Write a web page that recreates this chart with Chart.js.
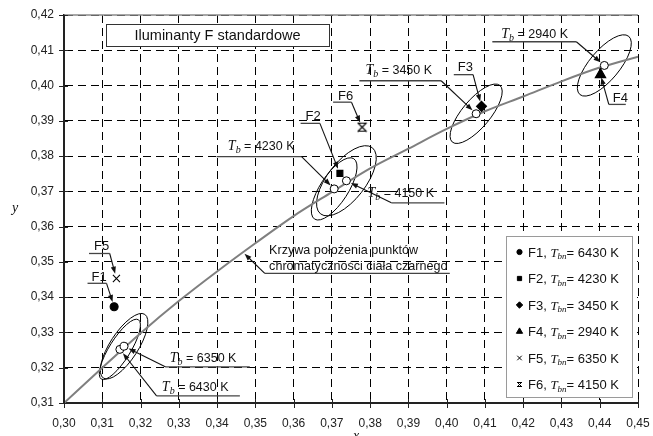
<!DOCTYPE html>
<html>
<head>
<meta charset="utf-8">
<script src="https://cdn.jsdelivr.net/npm/chart.js@4.4.1/dist/chart.umd.min.js"></script>
<style>
  html, body { margin: 0; padding: 0; background: #fff; }
  canvas { display: block; }
</style>
</head>
<body>
<canvas id="chart" width="653" height="436"></canvas>
<script>
// Black body (Planckian) locus, CIE 1931 chromaticity
const locusX = [0.30, 0.31, 0.32, 0.33, 0.34, 0.35, 0.36, 0.37, 0.38, 0.39, 0.40, 0.41, 0.42, 0.43, 0.44, 0.45];
const locusY = [0.3100, 0.3200, 0.3298, 0.3389, 0.3473, 0.3553, 0.3630, 0.3698, 0.3765, 0.3821, 0.3877, 0.3927, 0.3969, 0.4012, 0.4051, 0.4082];

// Standard F illuminants
const illumNames = ['F1', 'F2', 'F3', 'F4', 'F5', 'F6'];
const illumX = [0.3131, 0.3721, 0.4091, 0.4402, 0.3137, 0.3779];
const illumY = [0.3373, 0.3751, 0.3941, 0.4031, 0.3453, 0.3882];
const illumTbn = [6430, 4230, 3450, 2940, 6350, 4150];

// Black body points at the correlated colour temperatures
const tbTemps = [6430, 6350, 4230, 4150, 3450, 2940];
const tbX = [0.3146, 0.3157, 0.3706, 0.3738, 0.4077, 0.4412];
const tbY = [0.3252, 0.3261, 0.3707, 0.3730, 0.3920, 0.4057];

// Axis ticks
const xTickValues = [0.30, 0.31, 0.32, 0.33, 0.34, 0.35, 0.36, 0.37, 0.38, 0.39, 0.40, 0.41, 0.42, 0.43, 0.44, 0.45];
const yTickValues = [0.31, 0.32, 0.33, 0.34, 0.35, 0.36, 0.37, 0.38, 0.39, 0.40, 0.41, 0.42];

const SANS = '"Liberation Sans", Arial, Helvetica, sans-serif';
const SERIF = '"Liberation Serif", "Times New Roman", serif';
const fmt = v => v.toFixed(2).replace('.', ',');

// Star marker used for F6: a cross closed by bars at top and bottom
function makeStar(size, lw) {
  const c = document.createElement('canvas');
  c.width = size; c.height = size;
  const g = c.getContext('2d');
  const m = 1, e = size - 1;
  g.strokeStyle = '#000';
  g.lineWidth = lw;
  g.beginPath();
  g.moveTo(m, m); g.lineTo(e, e);
  g.moveTo(e, m); g.lineTo(m, e);
  g.moveTo(m, m + 0.5); g.lineTo(e, m + 0.5);
  g.moveTo(m, e - 0.5); g.lineTo(e, e - 0.5);
  g.stroke();
  return c;
}
const starMarker = makeStar(11, 1.1);
const starMarkerSmall = makeStar(7, 1);

const illumStyles = [
  { pointStyle: 'circle', radius: 4, legend: 'circle', legendRadius: 2.6 },
  { pointStyle: 'rect', radius: 4.2, legend: 'rect', legendRadius: 3 },
  { pointStyle: 'rectRot', radius: 5, legend: 'rectRot', legendRadius: 3.2 },
  { pointStyle: 'triangle', radius: 6, legend: 'triangle', legendRadius: 3.6 },
  { pointStyle: 'crossRot', radius: 5, legend: 'crossRot', legendRadius: 3.2 },
  { pointStyle: starMarker, radius: 5, legend: starMarkerSmall, legendRadius: 3 }
];

// Tolerance ellipses drawn round the black body points (pixel semi-axes, tilt in degrees)
const ellipseShapes = [
  { at: 0, rx: 35, ry: 10.5, tilt: 58 },
  { at: 1, rx: 38, ry: 14, tilt: 57 },
  { at: 2, rx: 36, ry: 14, tilt: 57 },
  { at: 3, rx: 42, ry: 19, tilt: 52 },
  { at: 4, rx: 37, ry: 14, tilt: 50 },
  { at: 5, rx: 38, ry: 15, tilt: 50 }
];

// Rich text pieces
const tbText = t => [
  { t: 'T', font: 'italic 14px ' + SERIF },
  { t: 'b', font: 'italic 10px ' + SERIF, dy: 3 },
  { t: ' = ' + t + ' K', font: '12.5px ' + SANS }
];
const plain = s => [{ t: s, font: '13px ' + SANS }];
const small = s => [{ t: s, font: '12.6px ' + SANS }];

// Callout labels: offsets in pixels from the marked point
const callouts = [
  { ds: 'tb', i: 5, lines: [tbText(2940)], tx: -103, ty: -27.5, ul: [-112, -28, -23.7], from: 'right', gap: 5 },
  { ds: 'il', i: 3, lines: [plain('F4')], tx: 12.3, ty: 27.8, ul: [8.3, 25.3, 29.8], from: 'left', gap: 3 },
  { ds: 'tb', i: 4, lines: [tbText(3450)], tx: -110.7, ty: -40, ul: [-116.7, -35, -33], from: 'right', gap: 5 },
  { ds: 'il', i: 2, lines: [plain('F3')], tx: -23.7, ty: -35.7, ul: [-27.7, -8.4, -31.7], from: 'right', gap: 5 },
  { ds: 'il', i: 5, lines: [plain('F6')], tx: -24, ty: -27.3, ul: [-29, -10.6, -25], from: 'right', gap: 5 },
  { ds: 'il', i: 1, lines: [plain('F2')], tx: -34.3, ty: -53.2, ul: [-39.3, -20, -50], from: 'right', gap: 5 },
  { ds: 'tb', i: 2, lines: [tbText(4230)], tx: -106.3, ty: -39, ul: [-117.6, -32.6, -32.3], from: 'right', gap: 5 },
  { ds: 'tb', i: 3, lines: [tbText(4150)], tx: 21, ty: 16, ul: [45, 98, 22], from: 'left', gap: 5 },
  { ds: 'pt', x: 0.3468, y: 0.3527, lines: [small('Krzywa położenia punktów'), small('chromatyczności ciała czarnego')],
    tx: 26, ty: 1.7, lineGap: 16, ul: [21.7, 206.7, 21], from: 'left', gap: 2 },
  { ds: 'il', i: 4, lines: [plain('F5')], tx: -22.4, ty: -28, ul: [-27.4, -6.7, -25], from: 'right', gap: 5 },
  { ds: 'il', i: 0, lines: [plain('F1')], tx: -22.6, ty: -25.7, ul: [-26.6, -7.6, -23.4], from: 'right', gap: 5 },
  { ds: 'tb', i: 1, lines: [tbText(6350)], tx: 45.7, ty: 16, ul: [41.7, 125.7, 20.7], from: 'left', gap: 5 },
  { ds: 'tb', i: 0, lines: [tbText(6430)], tx: 42, ty: 41.7, ul: [36.7, 120, 46.4], from: 'left', gap: 5 }
];

function drawRich(ctx, x, y, segs) {
  let cx = x;
  ctx.textBaseline = 'alphabetic';
  ctx.textAlign = 'left';
  for (const s of segs) {
    ctx.font = s.font;
    ctx.fillText(s.t, cx, y + (s.dy || 0));
    cx += ctx.measureText(s.t).width;
  }
  return cx;
}

function arrow(ctx, x1, y1, x2, y2) {
  const a = Math.atan2(y2 - y1, x2 - x1);
  ctx.beginPath();
  ctx.moveTo(x1, y1);
  ctx.lineTo(x2 - 5 * Math.cos(a), y2 - 5 * Math.sin(a));
  ctx.stroke();
  const L = 7, W = 2.6;
  ctx.beginPath();
  ctx.moveTo(x2, y2);
  ctx.lineTo(x2 - L * Math.cos(a) + W * Math.sin(a), y2 - L * Math.sin(a) - W * Math.cos(a));
  ctx.lineTo(x2 - L * Math.cos(a) - W * Math.sin(a), y2 - L * Math.sin(a) + W * Math.cos(a));
  ctx.closePath();
  ctx.fill();
}

const decor = {
  id: 'decor',
  beforeDatasetsDraw(chart) {
    const { ctx, scales: { x, y }, chartArea: a } = chart;
    ctx.save();
    // solid top frame
    ctx.strokeStyle = '#8a8a8a';
    ctx.lineWidth = 1.5;
    ctx.beginPath();
    ctx.moveTo(a.left, a.top); ctx.lineTo(a.right, a.top);
    ctx.stroke();
    // ellipses
    ctx.beginPath();
    ctx.rect(a.left, a.top, a.right - a.left, a.bottom - a.top);
    ctx.clip();
    ctx.strokeStyle = '#000';
    ctx.lineWidth = 1;
    for (const e of ellipseShapes) {
      const cx = x.getPixelForValue(tbX[e.at]);
      const cy = y.getPixelForValue(tbY[e.at]);
      ctx.beginPath();
      ctx.ellipse(cx, cy, e.rx, e.ry, -e.tilt * Math.PI / 180, 0, Math.PI * 2);
      ctx.stroke();
    }
    ctx.restore();
  },
  afterDraw(chart) {
    const { ctx, scales: { x, y }, chartArea: a } = chart;
    ctx.save();
    // axis ticks
    ctx.strokeStyle = '#222';
    ctx.lineWidth = 1;
    for (const v of xTickValues) {
      const px = Math.round(x.getPixelForValue(v)) + 0.5;
      ctx.beginPath(); ctx.moveTo(px, a.bottom - 4); ctx.lineTo(px, a.bottom + 5); ctx.stroke();
    }
    for (const v of yTickValues) {
      const py = Math.round(y.getPixelForValue(v)) + 0.5;
      ctx.beginPath(); ctx.moveTo(a.left - 5, py); ctx.lineTo(a.left + 4, py); ctx.stroke();
    }
    // axis titles
    ctx.fillStyle = '#111';
    ctx.font = 'italic 14px ' + SERIF;
    ctx.textAlign = 'center';
    ctx.fillText('y', 15, (a.top + a.bottom) / 2 + 3);
    ctx.fillText('x', (a.left + a.right) / 2 + 5, 440);

    // title box
    const bx = a.left + 42, by = a.top + 9, bw = 223, bh = 22;
    ctx.fillStyle = '#fff';
    ctx.fillRect(bx, by, bw, bh);
    ctx.strokeStyle = '#333';
    ctx.lineWidth = 1;
    ctx.strokeRect(bx + 0.5, by + 0.5, bw, bh);
    ctx.fillStyle = '#111';
    ctx.font = '14.5px ' + SANS;
    ctx.textAlign = 'center';
    ctx.textBaseline = 'middle';
    ctx.fillText('Iluminanty F standardowe', bx + bw / 2, by + bh / 2 + 1);

    // callouts
    ctx.fillStyle = '#111';
    for (const c of callouts) {
      let px, py;
      if (c.ds === 'tb') { px = x.getPixelForValue(tbX[c.i]); py = y.getPixelForValue(tbY[c.i]); }
      else if (c.ds === 'il') { px = x.getPixelForValue(illumX[c.i]); py = y.getPixelForValue(illumY[c.i]); }
      else { px = x.getPixelForValue(c.x); py = y.getPixelForValue(c.y); }
      c.lines.forEach((segs, k) => drawRich(ctx, px + c.tx, py + c.ty + k * (c.lineGap || 0), segs));
      const uy = py + c.ul[2];
      ctx.strokeStyle = '#444';
      ctx.lineWidth = 1.3;
      ctx.beginPath(); ctx.moveTo(px + c.ul[0], uy); ctx.lineTo(px + c.ul[1], uy); ctx.stroke();
      const sx = px + (c.from === 'left' ? c.ul[0] : c.ul[1]);
      const ang = Math.atan2(py - uy, px - sx);
      ctx.strokeStyle = '#111';
      ctx.lineWidth = 1.1;
      arrow(ctx, sx, uy, px - c.gap * Math.cos(ang), py - c.gap * Math.sin(ang));
    }

    // legend
    const lx = 506, ly = 236, lw = 126, lh = 161;
    ctx.fillStyle = '#fff';
    ctx.fillRect(lx, ly, lw, lh);
    ctx.strokeStyle = '#9a9a9a';
    ctx.lineWidth = 1;
    ctx.strokeRect(lx + 0.5, ly + 0.5, lw, lh);
    illumNames.forEach((n, k) => {
      const ry = ly + 16 + k * 26.5;
      ctx.fillStyle = '#000';
      ctx.strokeStyle = '#000';
      ctx.lineWidth = 1;
      const st = illumStyles[k];
      Chart.helpers.drawPoint(ctx, { pointStyle: st.legend, radius: st.legendRadius, rotation: 0, borderWidth: 1 }, lx + 13.5, ry);
      ctx.fillStyle = '#111';
      drawRich(ctx, lx + 22, ry + 4.5, [
        { t: n + ', ', font: '13px ' + SANS },
        { t: 'T', font: 'italic 13px ' + SERIF },
        { t: 'bn', font: 'italic 9px ' + SERIF, dy: 2.5 },
        { t: '= ' + illumTbn[k] + ' K', font: '13px ' + SANS }
      ]);
    });
    ctx.restore();
  }
};

const illumDatasets = illumNames.map((n, k) => ({
  label: n,
  data: [{ x: illumX[k], y: illumY[k] }],
  pointStyle: illumStyles[k].pointStyle,
  pointRadius: illumStyles[k].radius,
  pointBackgroundColor: '#000',
  pointBorderColor: '#000',
  pointBorderWidth: 1.1,
  showLine: false,
  order: 1
}));

new Chart(document.getElementById('chart'), {
  type: 'scatter',
  data: {
    datasets: [
      ...illumDatasets,
      {
        label: 'Tb',
        data: tbX.map((v, k) => ({ x: v, y: tbY[k] })),
        pointStyle: 'circle',
        pointRadius: 4,
        pointBackgroundColor: '#fff',
        pointBorderColor: '#000',
        pointBorderWidth: 1,
        showLine: false,
        order: 2
      },
      {
        label: 'locus',
        data: locusX.map((v, k) => ({ x: v, y: locusY[k] })),
        showLine: true,
        borderColor: '#7f7f7f',
        borderWidth: 2,
        pointRadius: 0,
        cubicInterpolationMode: 'monotone',
        order: 3
      }
    ]
  },
  options: {
    responsive: false,
    animation: false,
    devicePixelRatio: 1,
    events: [],
    layout: { padding: { top: 15, right: 15, left: 0, bottom: 0 } },
    plugins: { legend: { display: false }, tooltip: { enabled: false } },
    scales: {
      x: {
        type: 'linear', min: 0.30, max: 0.45,
        afterBuildTicks: s => { s.ticks = xTickValues.map(v => ({ value: v })); },
        afterFit: s => { s.height = 33; s.paddingLeft = 0; s.paddingRight = 0; },
        ticks: { callback: v => fmt(v), font: { family: SANS, size: 12 }, color: '#222', padding: 13, maxRotation: 0, autoSkip: false },
        grid: { color: '#000', lineWidth: 1, drawTicks: false },
        border: { display: true, color: '#222', width: 2, dash: [8, 5] }
      },
      y: {
        type: 'linear', min: 0.31, max: 0.42,
        afterBuildTicks: s => { s.ticks = yTickValues.map(v => ({ value: v })); },
        afterFit: s => { s.width = 64; s.paddingTop = 0; s.paddingBottom = 0; },
        ticks: { callback: v => fmt(v), font: { family: SANS, size: 12 }, color: '#222', padding: 10, autoSkip: false },
        grid: { color: '#000', lineWidth: 1, drawTicks: false },
        border: { display: true, color: '#222', width: 2, dash: [8, 5] }
      }
    }
  },
  plugins: [decor]
});
</script>
</body>
</html>
